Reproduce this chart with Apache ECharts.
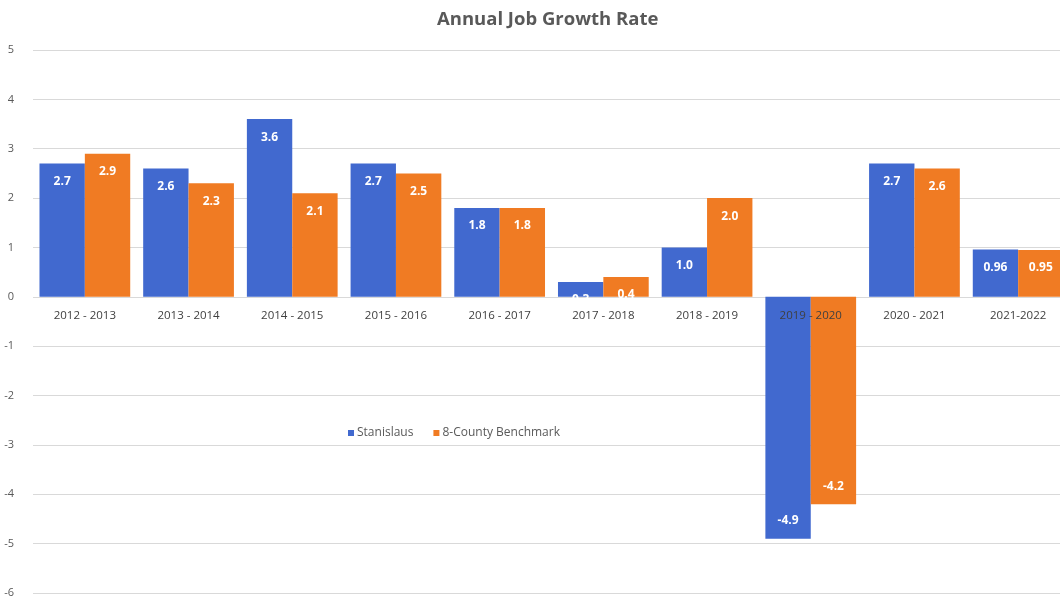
<!DOCTYPE html>
<html>
<head>
<meta charset="utf-8">
<script src="https://cdn.jsdelivr.net/npm/echarts@6/dist/echarts.min.js"></script>
<style>
  html, body { margin: 0; padding: 0; background: #ffffff; }
  #chart { width: 1060px; height: 605px; }
</style>
</head>
<body>
<div id="chart"></div>
<script>
// Annual job growth rate (%), Stanislaus vs. 8-county benchmark
const periods = ['2012 - 2013', '2013 - 2014', '2014 - 2015', '2015 - 2016', '2016 - 2017',
                 '2017 - 2018', '2018 - 2019', '2019 - 2020', '2020 - 2021', '2021-2022'];
const stanislaus = [2.7, 2.6, 3.6, 2.7, 1.8, 0.3, 1.0, -4.9, 2.7, 0.96];
const benchmark  = [2.9, 2.3, 2.1, 2.5, 1.8, 0.4, 2.0, -4.2, 2.6, 0.95];
const seriesNames = ['Stanislaus', '8-County Benchmark'];
const yTicks = { min: -6, max: 5, step: 1 };

const fmt = v => (Math.round(v * 10) === v * 10 ? v.toFixed(1) : v.toFixed(2));

function barData(values) {
  return values.map(v => ({
    value: v,
    label: { position: v < 0 ? 'insideBottom' : 'insideTop' }
  }));
}

const labelStyle = {
  show: true,
  color: '#ffffff',
  fontFamily: 'Open Sans',
  fontWeight: 'bold',
  fontSize: 12,
  distance: 12,
  formatter: p => fmt(p.value)
};

// plot area
const gridTop = 50, gridBottom = 12, chartHeight = 605;
const plotHeight = chartHeight - gridTop - gridBottom;
// shift the category axis up from the grid bottom to the zero line
const zeroShift = plotHeight * (0 - yTicks.min) / (yTicks.max - yTicks.min);

const chart = echarts.init(document.getElementById('chart'));
chart.setOption({
  animation: false,
  backgroundColor: '#ffffff',
  title: {
    text: 'Annual Job Growth Rate',
    left: 432,
    top: 5,
    textStyle: { fontFamily: 'Open Sans', fontWeight: 'bold', fontSize: 18.5, color: '#595959' }
  },
  legend: {
    data: seriesNames,
    left: 343,
    top: 422,
    itemWidth: 6,
    itemHeight: 6,
    itemGap: 20,
    icon: 'rect',
    textStyle: { fontFamily: 'Open Sans', fontSize: 12, color: '#595959', padding: [0, 0, 0, -2] }
  },
  grid: { left: 33, right: -10, top: gridTop, bottom: gridBottom, containLabel: false, outerBoundsMode: 'none' },
  xAxis: {
    type: 'category',
    data: periods,
    position: 'bottom',
    offset: -zeroShift,
    z: 3,
    axisLine: { show: false, onZero: false },
    axisTick: { show: false },
    axisLabel: { show: true, fontFamily: 'Open Sans', fontSize: 11.5, color: '#404040', margin: 13, interval: 0 },
    splitLine: { show: false }
  },
  yAxis: {
    type: 'value',
    min: yTicks.min,
    max: yTicks.max,
    interval: yTicks.step,
    axisLine: { show: false },
    axisTick: { show: false },
    axisLabel: { fontFamily: 'Open Sans', fontSize: 11, color: '#595959', margin: 19 },
    splitLine: { lineStyle: { color: '#d9d9d9', width: 1 } }
  },
  series: [
    {
      name: seriesNames[0],
      type: 'bar',
      data: barData(stanislaus),
      itemStyle: { color: '#4169cf' },
      barGap: '0%',
      barCategoryGap: '12.5%',
      label: labelStyle
    },
    {
      name: seriesNames[1],
      type: 'bar',
      data: barData(benchmark),
      itemStyle: { color: '#f07b23' },
      label: labelStyle
    }
  ]
});
</script>
</body>
</html>
